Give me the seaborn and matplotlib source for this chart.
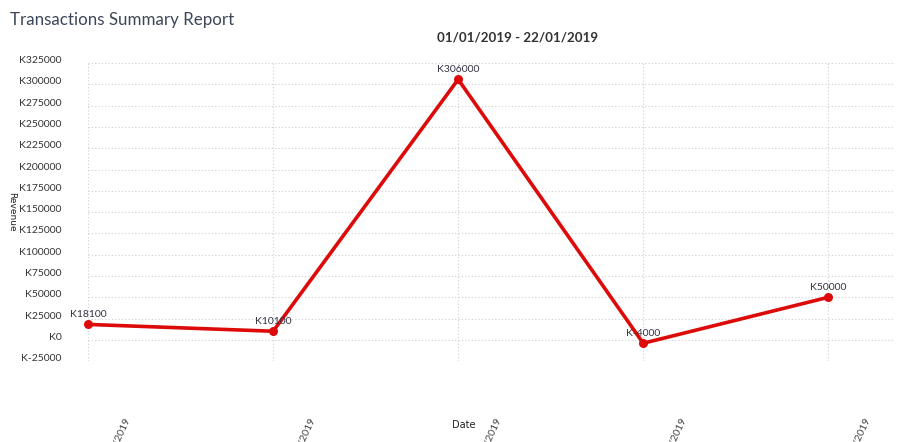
import matplotlib
matplotlib.use("Agg")
import matplotlib.pyplot as plt
import matplotlib.transforms as mtransforms
import seaborn as sns
import pandas as pd

dates = ["03/01/2019", "08/01/2019", "14/01/2019", "18/01/2019", "22/01/2019"]
revenue = [18100, 10100, 306000, -4000, 50000]
point_labels = ["K18100", "K10100", "K306000", "K-4000", "K50000"]
y_ticks = list(range(-25000, 325001, 25000))

sns.set_theme(style="white")
plt.rcParams["font.family"] = ["Lato", "DejaVu Sans"]

df = pd.DataFrame({"x": range(len(dates)), "Revenue": revenue})

fig = plt.figure(figsize=(9.03, 4.42), dpi=100)
ax = fig.add_axes([0.0975, 0.183, 0.8915, 0.674])

sns.lineplot(data=df, x="x", y="Revenue", ax=ax, color="#dd0a0a", linewidth=2.6,
             marker="o", markersize=6.5, markeredgewidth=0, zorder=3)
for ln in ax.lines:
    ln.set_clip_on(False)

ax.set_xlim(0, 4.35)
ax.set_ylim(-25000, 325000)
ax.set_yticks(y_ticks)
ax.set_yticklabels([f"K{v}" for v in y_ticks])
ax.set_xticks(range(len(dates)))
ax.set_xticklabels(dates, rotation=65, ha="right", va="center", rotation_mode="anchor")

ax.grid(True, linestyle=(0, (1, 2)), color="#cfcfcf", linewidth=0.8)
for s in ax.spines.values():
    s.set_visible(False)
ax.tick_params(axis="y", length=0, pad=19, labelsize=7.5, labelcolor="#333333")
ax.tick_params(axis="x", length=0, pad=0, labelsize=7.5, labelcolor="#444444")

yoff = mtransforms.ScaledTranslation(0, 3.5 / 100, fig.dpi_scale_trans)
for lab in ax.yaxis.get_majorticklabels():
    lab.set_transform(lab.get_transform() + yoff)
xoff = mtransforms.ScaledTranslation(40 / 100, -57 / 100, fig.dpi_scale_trans)
for lab in ax.xaxis.get_majorticklabels():
    lab.set_transform(lab.get_transform() + xoff)

for i, (v, t) in enumerate(zip(revenue, point_labels)):
    ax.annotate(t, (i, v), xytext=(0, 10), textcoords="offset pixels",
                ha="center", va="center", fontsize=7.5, color="#333344", zorder=4)

ax.set_xlabel("")
ax.set_ylabel("")
fig.text(464 / 903, 1 - 425 / 442, "Date", ha="center", va="center", fontsize=7,
         family=["DejaVu Sans"], color="#222222")
fig.text(12 / 903, 1 - 212 / 442, "Revenue", ha="center", va="center", fontsize=6.5,
         rotation=-90, family=["DejaVu Sans"], color="#222222")

fig.text(10 / 903, 1 - 20 / 442, "Transactions Summary Report", ha="left", va="center",
         fontsize=12.2, color="#3b4758")
fig.text(518 / 903, 1 - 38 / 442, "01/01/2019 - 22/01/2019", ha="center", va="center",
         fontsize=9.6, color="#333333", fontweight="bold")

fig.savefig("out.png", dpi=100)
